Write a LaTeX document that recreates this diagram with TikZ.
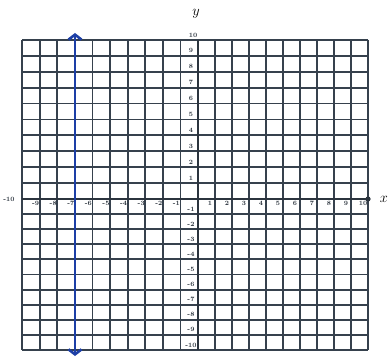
\documentclass[tikz,border=0pt]{standalone}
\usetikzlibrary{arrows.meta}
\definecolor{gridc}{HTML}{36414D}
\definecolor{penblue}{HTML}{1D3FA6}
\begin{document}
\begin{tikzpicture}[x=1pt,y=-1pt,
  gridline/.style={draw=gridc,line width=1.8pt},
  axisline/.style={draw=gridc!80!black,line width=2.1pt},
  ticklab/.style={font=\fontsize{6.5}{6.5}\selectfont\bfseries,text=gridc!80!black,inner sep=0pt},
  axislab/.style={font=\fontsize{14}{14}\selectfont,inner sep=0pt},
  penline/.style={draw=penblue,line width=2.6pt,line cap=round}]
\useasboundingbox (0,0) rectangle (391,358);
\def\xo{198}\def\yo{199}
% vertical grid lines
\foreach \i in {-10,...,10} {
  \pgfmathsetmacro\xx{\i<0 ? \xo+\i*17.6 : \xo+\i*17.0}
  \draw[gridline] (\xx,40) -- (\xx,350);
}
% horizontal grid lines
\foreach \j in {-10,...,10} {
  \pgfmathsetmacro\yy{\j>0 ? \yo-\j*15.9 : \yo-\j*15.1}
  \draw[gridline] (22,\yy) -- (368,\yy);
}
% axes
\coordinate (xl) at (22,\yo);
\coordinate (xr) at (368,\yo);
\coordinate (yt) at (\xo,40);
\coordinate (yb) at (\xo,350);
\draw[axisline] (xl) -- (xr);
\draw[axisline] (yt) -- (yb);
\fill[gridc!80!black] (xr) circle (2.6pt);
% axis names
\node[axislab] (xname) at (384,199) {$x$};
\node[axislab] (yname) at (196,14) {$y$};
% x tick labels
\node[ticklab] (xlm10) at (9,199) {-10};
\foreach \i in {-9,...,-1} {
  \pgfmathsetmacro\xx{\xo+\i*17.6}
  \node[ticklab] (xl\i) at (\xx-4,203) {\i};
}
\foreach \i in {1,...,10} {
  \pgfmathsetmacro\xx{\xo+\i*17.0}
  \node[ticklab] (xl\i) at (\xx-5,203) {\i};
}
% y tick labels
\node[ticklab] (yl10) at (193,35) {10};
\foreach \j in {1,...,9} {
  \pgfmathsetmacro\yy{\yo-\j*15.9}
  \node[ticklab] (yl\j) at (191,\yy-5) {\j};
}
\foreach \j in {-10,...,-1} {
  \pgfmathsetmacro\yy{\yo-\j*15.1}
  \node[ticklab] (yl\j) at (191,\yy-5) {\j};
}
% vertical line x = -7
\coordinate (ptop) at (75,33);
\coordinate (pbot) at (75,356);
\draw[penline,{Straight Barb[length=5pt,width=13pt]}-{Straight Barb[length=5pt,width=13pt]}] (ptop) -- (pbot);
\end{tikzpicture}
\end{document}
